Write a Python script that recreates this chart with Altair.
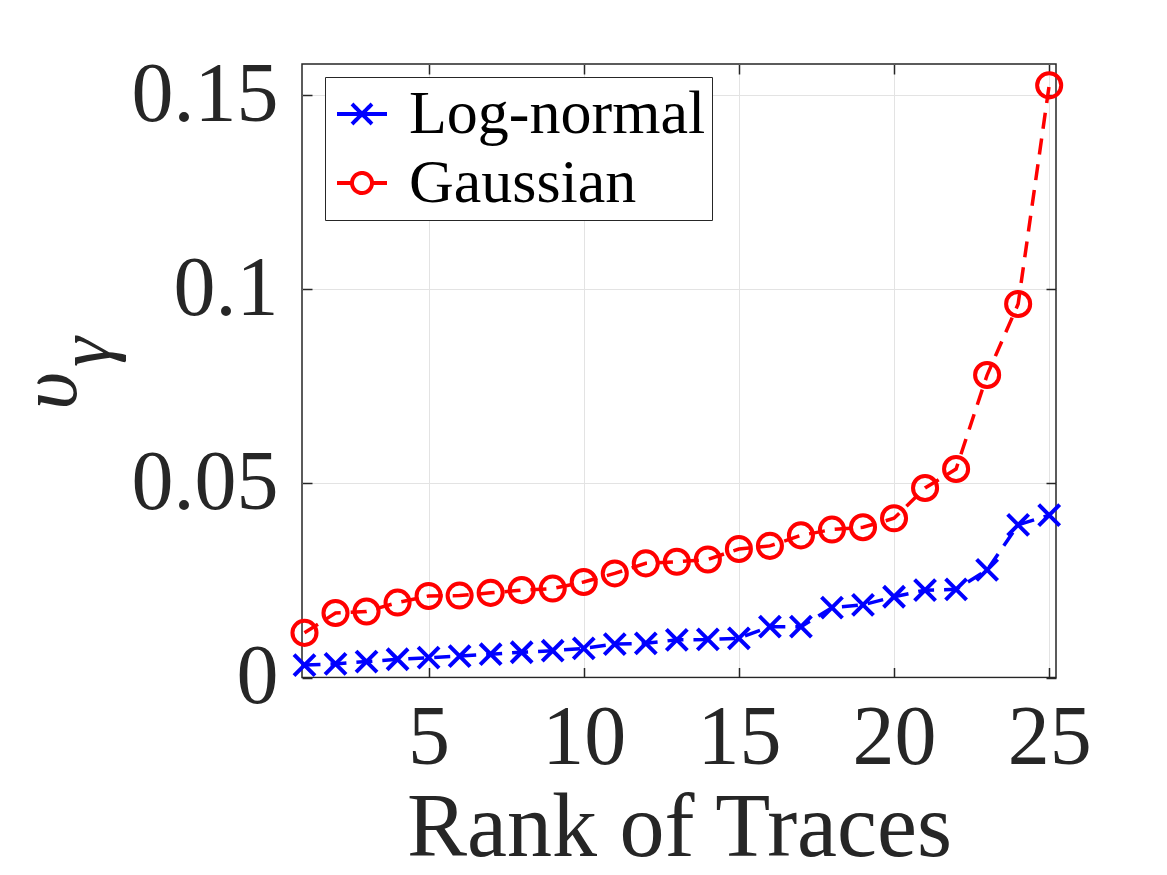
import altair as alt
import pandas as pd

rank = list(range(1, 26))
lognormal = [0.0032, 0.0035, 0.0041, 0.0047, 0.0051, 0.0055, 0.0060, 0.0065, 0.0069, 0.0075,
             0.0086, 0.0088, 0.0097, 0.0098, 0.0101, 0.0131, 0.0131, 0.0180, 0.0187, 0.0208,
             0.0225, 0.0227, 0.0277, 0.0393, 0.0418]
gaussian = [0.0115, 0.0166, 0.0170, 0.0193, 0.0210, 0.0211, 0.0218, 0.0225, 0.0229, 0.0246,
            0.0268, 0.0294, 0.0298, 0.0304, 0.0331, 0.0339, 0.0366, 0.0381, 0.0387, 0.0410,
            0.0488, 0.0537, 0.0779, 0.0962, 0.1525]
series_names = ["Log-normal", "Gaussian"]
series_colors = ["#0000ff", "#ff0000"]
x_ticks = [5, 10, 15, 20, 25]
y_ticks = [0, 0.05, 0.1, 0.15]

df = pd.DataFrame({
    "rank": rank * 2,
    "value": lognormal + gaussian,
    "series": [series_names[0]] * len(rank) + [series_names[1]] * len(rank),
})

FONT = "Liberation Serif"
INK = "#262626"
X_PATH = "M-1,-1L1,1M-1,1L1,-1"
LEG_X = "M-1,0H1M-0.4,-0.4L0.4,0.4M-0.4,0.4L0.4,-0.4"
LEG_O = "M-1,0H-0.4M0.4,0H1M0.4,0A0.4,0.4 0 1,1 -0.4,0A0.4,0.4 0 1,1 0.4,0"

W, H = 754, 613.5

xscale = alt.Scale(domain=[0.92, 25.22], nice=False, zero=False)
yscale = alt.Scale(domain=[0, 0.158], nice=False, zero=False)

main_x_axis = alt.Axis(values=x_ticks, title="Rank of Traces", grid=True, ticks=False, domain=False,
                       labelFont=FONT, labelFontSize=84, labelColor=INK, labelPadding=20,
                       titleFont=FONT, titleFontSize=90, titleFontWeight="normal", titleColor=INK,
                       titlePadding=4, gridColor="#e3e3e3", gridWidth=1)
main_y_axis = alt.Axis(values=y_ticks, format="~g", title=None, grid=True, ticks=False, domain=False,
                       labelFont=FONT, labelFontSize=84, labelColor=INK, labelPadding=24,
                       gridColor="#e3e3e3", gridWidth=1)


def tick_axis(orient, values, offset):
    return alt.Axis(orient=orient, values=values, labels=False, title=None, grid=False, domain=False,
                    ticks=True, tickSize=10, tickColor=INK, tickWidth=1.5, offset=offset)


legend = alt.Legend(
    title=None, orient="none", legendX=23, legendY=13,
    labelFont=FONT, labelFontSize=62, labelColor="#000000", labelLimit=500,
    labelOffset=16, symbolSize=2500, symbolStrokeWidth=4, symbolDash=[1, 0],
    symbolFillColor="transparent", symbolOpacity=1,
    fillColor="#ffffff", strokeColor=INK, padding=6, rowPadding=7,
)
color = alt.Color("series:N", scale=alt.Scale(domain=series_names, range=series_colors), legend=legend)
shape = alt.Shape("series:N", scale=alt.Scale(domain=series_names, range=[LEG_X, LEG_O]), legend=legend)

base = alt.Chart(df)

lines = base.mark_line(strokeWidth=3.5, strokeDash=[16, 10]).encode(
    x=alt.X("rank:Q", scale=xscale, axis=main_x_axis),
    y=alt.Y("value:Q", scale=yscale, axis=main_y_axis),
    color=color,
)

pts_ln = base.transform_filter(alt.datum.series == series_names[0]).mark_point(
    shape=X_PATH, size=440, filled=False, strokeWidth=4, opacity=1
).encode(
    x=alt.X("rank:Q", scale=xscale, axis=tick_axis("top", x_ticks, -H)),
    y=alt.Y("value:Q", scale=yscale, axis=tick_axis("right", y_ticks, -W)),
    color=color,
)

pts_g = base.transform_filter(alt.datum.series == series_names[1]).mark_point(
    shape="circle", size=580, filled=False, strokeWidth=4, opacity=1
).encode(
    x=alt.X("rank:Q", scale=xscale, axis=tick_axis("bottom", x_ticks, -H)),
    y=alt.Y("value:Q", scale=yscale, axis=tick_axis("left", y_ticks, -W)),
    color=color,
)

legend_layer = base.transform_filter("false").mark_point(filled=False, strokeWidth=4, opacity=1).encode(
    color=color, shape=shape,
)

ups = alt.Chart(pd.DataFrame({"t": ["υ"]})).mark_text(
    font=FONT, fontSize=82, fontStyle="italic", color=INK, angle=270,
    align="center", baseline="alphabetic"
).encode(text="t:N", x=alt.value(-226), y=alt.value(327))

gam = alt.Chart(pd.DataFrame({"t": ["γ"]})).mark_text(
    font=FONT, fontSize=76, fontStyle="italic", color=INK, angle=270,
    align="center", baseline="middle"
).encode(text="t:N", x=alt.value(-215), y=alt.value(288))

chart = alt.layer(lines, pts_ln, pts_g, legend_layer, ups, gam).resolve_axis(
    x="independent", y="independent"
).properties(
    width=W, height=H,
    autosize=alt.AutoSizeParams(type="none"),
    padding={"left": 302, "top": 64, "right": 111, "bottom": 197.5},
    background="#ffffff",
).configure_view(stroke=INK, strokeWidth=1.5)

chart.save("out.html", embed_options={"renderer": "svg", "actions": False})
